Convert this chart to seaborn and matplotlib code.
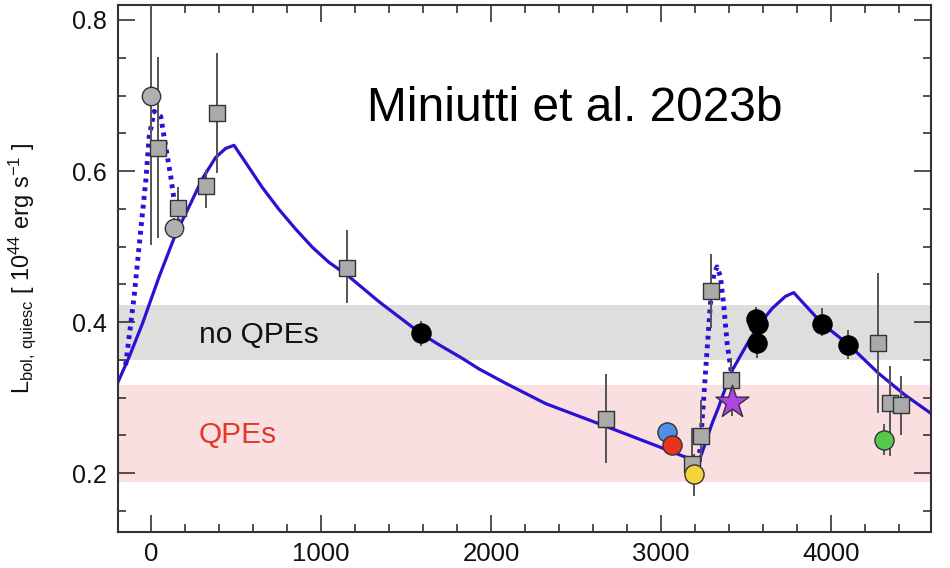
import numpy as np
import pandas as pd
import matplotlib
matplotlib.use("Agg")
import matplotlib.pyplot as plt
import seaborn as sns

sns.set_theme(style="ticks")
plt.rcParams['font.family'] = ['Liberation Sans', 'DejaVu Sans']
plt.rcParams['mathtext.fontset'] = 'custom'
plt.rcParams['mathtext.rm'] = 'Liberation Sans'
plt.rcParams['mathtext.it'] = 'Liberation Sans:italic'

# ---------------- data ----------------
# model curve (solid)
model_x = [-200, -129, -51, 47, 145, 224, 302, 380, 439, 488, 557, 655, 753, 851,
           949, 1047, 1155, 1341, 1586, 1694, 1831, 1929, 2086, 2322, 2675, 2988,
           3067, 3135, 3204, 3224, 3302, 3341, 3361, 3420, 3498, 3576, 3655, 3733,
           3782, 3949, 4106, 4282, 4439, 4590]
model_y = [0.318, 0.354, 0.398, 0.460, 0.517, 0.553, 0.590, 0.618, 0.630, 0.634,
           0.611, 0.578, 0.549, 0.523, 0.499, 0.479, 0.462, 0.427, 0.385, 0.370,
           0.352, 0.338, 0.319, 0.292, 0.262, 0.235, 0.228, 0.222, 0.217, 0.215,
           0.266, 0.288, 0.301, 0.336, 0.367, 0.396, 0.418, 0.434, 0.439, 0.398,
           0.370, 0.332, 0.303, 0.279]

# flare models (dotted)
flare1_x = [-150, -100, -61, -31, -12, 18, 57, 86, 116, 135, 165]
flare1_y = [0.343, 0.434, 0.522, 0.588, 0.645, 0.679, 0.672, 0.632, 0.592, 0.562, 0.527]
flare2_x = [3224, 3233, 3253, 3272, 3292, 3312, 3331, 3351, 3371, 3390, 3415]
flare2_y = [0.215, 0.239, 0.301, 0.363, 0.425, 0.464, 0.473, 0.460, 0.420, 0.372, 0.333]

# grey squares
sq_x = [41, 159, 324, 388, 1150, 2675, 3184, 3237, 3296, 3410, 4278, 4347, 4412]
sq_y = [0.630, 0.551, 0.580, 0.677, 0.471, 0.272, 0.212, 0.249, 0.441, 0.323, 0.372, 0.293, 0.290]
sq_lo = [0.511, 0.522, 0.551, 0.597, 0.425, 0.213, 0.195, 0.215, 0.392, 0.300, 0.279, 0.222, 0.250]
sq_hi = [0.751, 0.579, 0.601, 0.756, 0.522, 0.331, 0.260, 0.297, 0.490, 0.352, 0.465, 0.342, 0.329]

# grey circles
gc_x = [0, 135]
gc_y = [0.700, 0.524]
gc_lo = [0.502, 0.512]
gc_hi = [0.900, 0.538]

# black circles
bc_x = [1586, 3558, 3572, 3565, 3949, 4102]
bc_y = [0.385, 0.404, 0.398, 0.372, 0.398, 0.370]
bc_lo = [0.368, 0.385, 0.380, 0.352, 0.381, 0.351]
bc_hi = [0.402, 0.420, 0.415, 0.390, 0.419, 0.389]

# coloured points
col_x = [3037, 3063, 3198, 4316]
col_y = [0.255, 0.237, 0.199, 0.244]
col_lo = [0.250, 0.232, 0.169, 0.224]
col_hi = [0.266, 0.242, 0.225, 0.265]
col_c = ['#4f8fe6', '#e8331f', '#f6d33a', '#55c94a']

star_x = [3416]
star_y = [0.294]
star_lo = [0.275]
star_hi = [0.312]

xticks = [0, 1000, 2000, 3000, 4000]
yticks = [0.2, 0.4, 0.6, 0.8]

# ---------------- figure ----------------
fig = plt.figure(figsize=(9.5, 5.68), dpi=100)
ax = fig.add_axes([0.1242, 0.0634, 0.8558, 0.928])

ax.axhspan(0.350, 0.422, color='#dedede', lw=0, zorder=0)
ax.axhspan(0.188, 0.316, color='#f9dfdf', lw=0, zorder=0)

line_c = '#2a12d4'
sns.lineplot(x=model_x, y=model_y, ax=ax, color=line_c, lw=2.3, sort=False,
             estimator=None, zorder=2)
for fx, fy in [(flare1_x, flare1_y), (flare2_x, flare2_y)]:
    sns.lineplot(x=fx, y=fy, ax=ax, color=line_c, lw=3.5, sort=False,
                 estimator=None, linestyle=(0, (0.8, 1.0)), zorder=2)

def ebars(xs, ys, lo, hi):
    ys = np.array(ys); lo = np.array(lo); hi = np.array(hi)
    ax.errorbar(xs, ys, yerr=[ys - lo, hi - ys], fmt='none', ecolor='#555555',
                elinewidth=1.4, capsize=0, zorder=3)

ebars(sq_x, sq_y, sq_lo, sq_hi)
ebars(gc_x, gc_y, gc_lo, gc_hi)
ebars(bc_x, bc_y, bc_lo, bc_hi)
ebars(col_x, col_y, col_lo, col_hi)
ebars(star_x, star_y, star_lo, star_hi)

sns.scatterplot(x=gc_x, y=gc_y, ax=ax, marker='o', s=175, color='#b0b0b0',
                edgecolor='#333333', linewidth=1.0, zorder=4)
sns.scatterplot(x=sq_x, y=sq_y, ax=ax, marker='s', s=135, color='#aaaaaa',
                edgecolor='#333333', linewidth=1.0, zorder=4)
sns.scatterplot(x=bc_x, y=bc_y, ax=ax, marker='o', s=190, color='black',
                edgecolor='black', linewidth=1.0, zorder=5)
df_col = pd.DataFrame({'x': col_x, 'y': col_y, 'c': col_c})
for i, r in df_col.iterrows():
    sns.scatterplot(x=[r.x], y=[r.y], ax=ax, marker='o', s=190, color=r.c,
                    edgecolor='#333333', linewidth=1.0, zorder=6)
sns.scatterplot(x=star_x, y=star_y, ax=ax, marker='*', s=620, color='#b044e3',
                edgecolor='#333333', linewidth=1.0, zorder=6)

ax.set_xlim(-195, 4590)
ax.set_ylim(0.122, 0.82)
ax.set_xticks(xticks)
ax.set_xticklabels([str(t) for t in xticks])
ax.set_yticks(yticks)
ax.set_yticklabels([f"{t:.1f}" for t in yticks])
ax.xaxis.set_minor_locator(matplotlib.ticker.MultipleLocator(200))
ax.yaxis.set_minor_locator(matplotlib.ticker.MultipleLocator(0.05))
ax.tick_params(which='both', direction='in', top=True, right=True,
               color='#333333', width=1.2)
ax.tick_params(which='major', length=12)
ax.tick_params(which='minor', length=6)
ax.tick_params(axis='x', which='major', labelsize=18.5, pad=7, labelcolor='#111111')
ax.tick_params(axis='y', which='major', labelsize=18, pad=8, labelcolor='#111111')
for sp in ax.spines.values():
    sp.set_color('#333333')
    sp.set_linewidth(1.5)
ax.set_xlabel('')
ax.set_ylabel(r'L$_{\mathrm{bol,\,quiesc}}$ [ 10$^{44}$ erg s$^{-1}$ ]', fontsize=17,
              color='#111111')
ax.yaxis.set_label_coords(-0.098, 0.50)

ax.text(1270, 0.683, 'Miniutti et al. 2023b', fontsize=34.5, color='black',
        ha='left', va='center')
ax.text(282, 0.383, 'no QPEs', fontsize=21.5, color='#111111', ha='left', va='center')
ax.text(282, 0.250, 'QPEs', fontsize=21.5, color='#e0392b', ha='left', va='center')

fig.savefig('out.png', dpi=100)
